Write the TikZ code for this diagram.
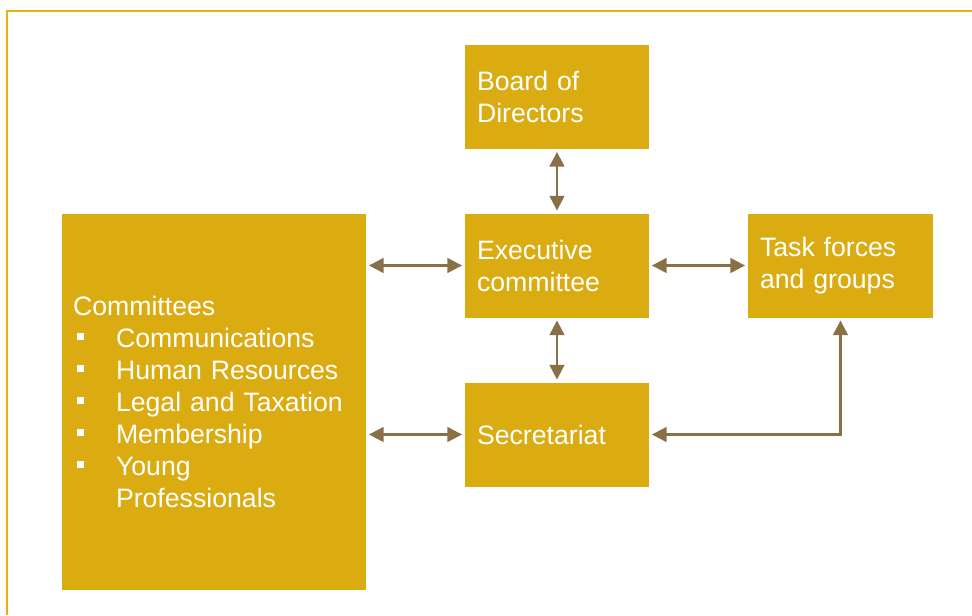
\documentclass[tikz,border=0pt]{standalone}
\usepackage{fontspec}
\setmainfont{Liberation Sans}
\usepackage{tikz}
\usetikzlibrary{arrows.meta}
\definecolor{gold}{HTML}{DAAC12}
\definecolor{framegold}{HTML}{E5B40C}
\definecolor{arrowbrown}{HTML}{8A7046}
\newcommand{\blt}{\makebox[32.25pt][l]{\hspace{3pt}\rule[5.5pt]{5.5pt}{5.5pt}}}

\begin{document}
\begin{tikzpicture}[x=0.75pt,y=-0.75pt]
\tikzset{unit/.style={fill=gold,text=white,align=left,inner xsep=9pt,inner ysep=0pt,font=\fontsize{20}{24}\selectfont,minimum height=78pt,text width=120pt},
link/.style={draw=arrowbrown,line width=1.7pt,{Triangle[length=11pt,width=11pt]}-{Triangle[length=11pt,width=11pt]},shorten <=2pt,shorten >=2pt}}
\useasboundingbox (0,0) rectangle (972,615);
\draw[framegold,line width=2pt] (7,615) -- (7,11) -- (972,11);

\node[unit] (board) at (557,97) {Board of\\Directors};
\node[unit] (exec) at (557,265.5) {Executive\\committee};
\node[unit,text width=120.75pt] (task) at (840.5,265.5) {Task forces\\and groups};
\node[unit] (sec) at (557,434.5) {Secretariat};
\node[unit,inner xsep=8.25pt,text width=211.5pt,minimum height=282pt] (comm) at (214,402) {Committees\\
\blt Communications\\
\blt Human Resources\\
\blt Legal and Taxation\\
\blt Membership\\
\blt Young\\
\hspace*{32.25pt}Professionals};

\draw[link] (board) -- (exec);
\draw[link] (exec) -- (sec);
\draw[link] (comm.east |- exec.west) -- (exec.west);
\draw[link] (exec) -- (task);
\draw[link] (comm.east |- sec.west) -- (sec.west);
\draw[link] (task.south) |- (sec.east);
\end{tikzpicture}
\end{document}
